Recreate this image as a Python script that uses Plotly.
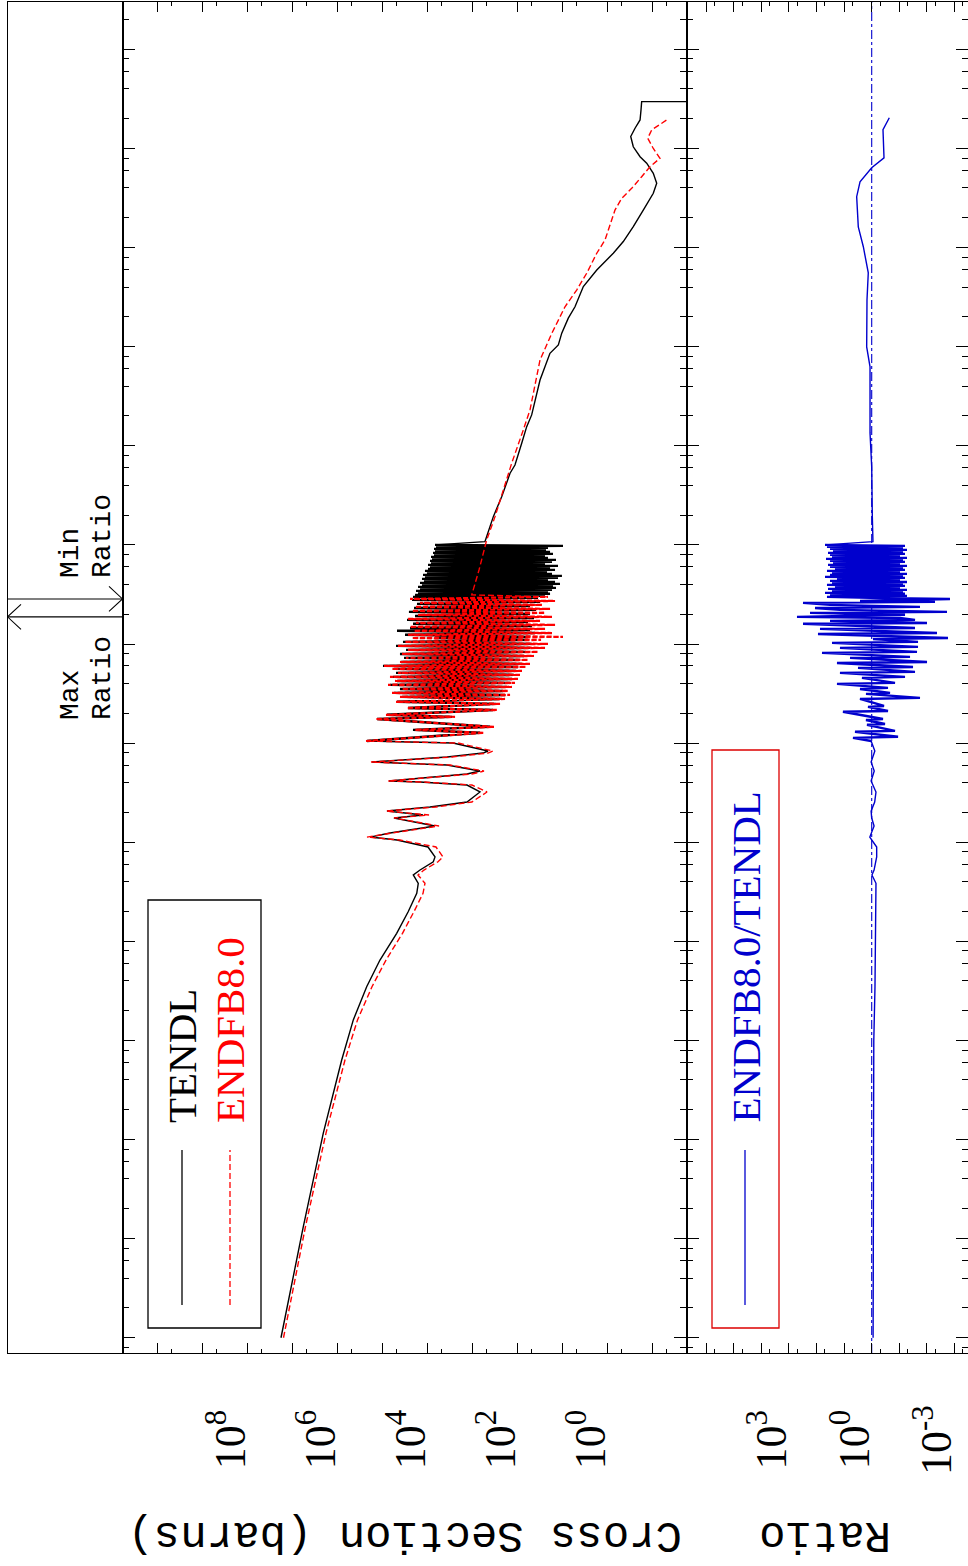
import math
import plotly.graph_objects as go

W, H = 968, 1566

# ---------------- data (energy in eV, cross section in barns) ----------------
tendl_thermal_e = [1.0e-5, 1.32e-4, 1.16e-3, 6.34e-3, 1.61e-2, 3.48e-2, 6.47e-2, 0.1205, 0.2, 0.305, 0.385, 0.467, 0.524, 0.635, 0.71]
tendl_thermal_xs = [1.82e7, 5.81e6, 2.09e6, 8.15e5, 4.50e5, 2.27e5, 1.15e5, 4.89e4, 2.70e4, 1.75e4, 1.62e4, 2.09e4, 1.48e4, 7.51e3, 6.88e3]
endf_thermal_xs = [1.60e7, 5.20e6, 1.82e6, 6.89e5, 3.63e5, 1.73e5, 8.45e4, 3.63e4, 2.01e4, 1.27e4, 1.15e4, 1.64e4, 1.21e4, 5.9e3, 4.57e3]

low_res_e = [0.895, 1.052, 1.127, 1.239, 1.39, 1.459, 1.754, 1.88, 2.065, 2.265, 2.546, 3.213, 3.776, 4.046, 4.15,
             4.55, 4.875, 5.224, 6.01, 6.44, 7.24, 7.94, 8.32, 10.02]
tendl_low_res_xs = [9.85e3, 4.81e4, 1.91e5, 6.89e4, 1.48e4, 6.88e3, 5.61e4, 1.27e4, 8.02e4, 8.89e3, 1.34e3, 689, 1.34e3,
                    1.48e4, 7.24e4, 8.89e3, 1.34e3, 689, 3.72e3, 1.73e5, 3.72e3, 590, 457, 2.74e3]
endf_low_res_xs = [6.54e3, 4.13e4, 2.23e5, 6.21e4, 1.15e4, 5.61e3, 5.61e4, 9.35e3, 8.45e4, 6.54e3, 1.04e3, 481, 1.04e3,
                   1.21e4, 7.62e4, 7.24e3, 1.04e3, 561, 3.19e3, 1.82e5, 2.88e3, 457, 354, 2.12e3]

tendl_res_e = [10.5, 12.7, 13.6, 14.6, 17.5, 18.4, 19.3, 21.6, 22.6, 24.9, 26.1, 27.9, 29.3, 30.6, 32.1, 33.6, 35.2, 36.9,
               38.7, 40.5, 42.4, 44.4, 46.6, 48.8, 51.1, 53.5, 56.1, 58.7, 60.1, 63.0, 65.9, 69.1, 72.4, 75.8, 79.4, 83.2,
               87.2, 91.4, 95.7, 100.2, 105, 110, 115, 118, 124, 129, 136, 139, 145, 152, 160, 167, 175, 183, 192, 201,
               211, 221, 231, 242, 254, 266, 279, 292]
tendl_res_xs = [2.23e5, 689, 2.12e4, 413, 1.34e5, 2.88e3, 8.02e4, 354, 2.74e4, 303, 4.81e4, 247, 3.72e4, 191, 5.61e4, 212,
                4.13e4, 173, 6.89e4, 148, 4.81e4, 134, 5.90e4, 121, 5.06e4, 109, 5.61e4, 98.5, 9.85e4, 80.2, 3.92e4, 88.9,
                3.36e4, 72.4, 4.13e4, 65.4, 3.03e4, 53.3, 5.06e4, 48.1, 3.54e4, 59.0, 6.88e3, 53.3, 3.19e4, 41.3, 4.81e4,
                53.3, 2.47e4, 48.1, 2.12e4, 59.0, 2.88e4, 43.4, 1.91e4, 53.3, 2.61e4, 39.2, 2.01e4, 53.3, 1.73e4, 31.9,
                2.23e4, 35.4]

endf_res_e = [10.5, 12.7, 13.6, 14.6, 17.5, 18.4, 19.3, 21.6, 22.6, 24.9, 26.1, 27.9, 29.3, 30.6, 32.1, 33.6, 35.2, 36.9,
              38.7, 40.5, 42.4, 44.4, 46.6, 48.8, 51.1, 53.5, 56.1, 58.7, 60.1, 63.0, 65.9, 69.1, 72.4, 75.8, 79.4, 83.2,
              87.2, 91.4, 95.7, 100.2, 105, 110, 115, 118, 124, 129, 136, 142, 149, 156, 163, 171, 179, 188, 197, 206,
              216, 226, 237, 248, 260, 272, 285, 299]
endf_res_xs = [2.35e5, 561, 1.91e4, 337, 1.41e5, 2.47e3, 8.45e4, 288, 2.88e4, 247, 5.06e4, 191, 4.13e4, 148, 6.21e4, 164,
               3.72e4, 134, 7.62e4, 115, 5.33e4, 98.5, 6.89e4, 88.9, 4.57e4, 80.2, 6.21e4, 65.4, 9.35e4, 53.3, 4.13e4, 59.0,
               3.03e4, 43.4, 3.72e4, 35.4, 2.74e4, 24.7, 4.57e4, 21.2, 3.19e4, 30.3, 2.23e4, 9.85, 2.74e4, 17.3, 2.01e4,
               24.7, 2.47e4, 14.8, 1.82e4, 31.9, 2.74e4, 17.3, 1.64e4, 24.7, 2.23e4, 19.1, 1.91e4, 28.8, 1.48e4, 14.8,
               2.47e4, 21.2]

block_e = [299, 306, 313, 321, 328, 336, 344, 352, 360, 368, 377, 386, 395, 404, 414, 423, 433, 444, 454, 465, 476, 487,
           498, 510, 522, 534, 547, 560, 573, 586, 600, 614, 629, 644, 659, 674, 690, 706, 723, 740, 757, 775, 793, 811,
           830, 850, 870, 890, 911, 933, 955, 977, 1000]
tendl_block_xs = [2.12e4, 24.7, 1.91e4, 19.1, 1.64e4, 21.2, 1.82e4, 17.3, 1.48e4, 14.1, 1.64e4, 16.4, 1.34e4, 11.5,
                  1.48e4, 14.8, 1.21e4, 21.2, 1.34e4, 12.7, 1.15e4, 10.4, 1.27e4, 17.3, 1.04e4, 22.3, 1.15e4, 14.8,
                  9.85e3, 19.1, 8.89e3, 12.7, 9.85e3, 24.7, 8.45e3, 17.3, 8.89e3, 14.1, 8.02e3, 21.2, 8.45e3, 24.7,
                  7.24e3, 16.4, 7.62e3, 19.1, 6.88e3, 23.5, 7.24e3, 21.2, 6.54e3, 9.85, 6.88e3]

tendl_fast_e = [1000, 1080, 1928, 3063, 5284, 6400, 1.06e4, 1.56e4, 2.05e4, 4.61e4, 8.57e4, 1.04e5, 1.37e5, 1.94e5, 2.53e5,
                4.04e5, 5.94e5, 8.77e5, 1.15e6, 1.63e6, 2.39e6, 3.53e6, 4.46e6, 5.62e6, 7.10e6, 8.26e6, 1.04e7, 1.32e7,
                1.60e7, 1.94e7, 2.44e7, 2.97e7, 2.97e7]
tendl_fast_xs = [6.88e3, 533, 348, 227, 148, 115, 81.5, 63.1, 48.9, 31.9, 19.2, 12.5, 10.5, 7.51, 5.33, 3.48, 1.75, 0.751, 0.450,
                 0.270, 0.162, 0.097, 0.0815, 0.097, 0.136, 0.191, 0.270, 0.308, 0.247, 0.191, 0.182, 0.176, 1e-5]

endf_fast_e = [299, 313, 558, 1120, 1928, 4518, 6668, 1.445e4, 2.30e4, 7.35e4, 1.36e5, 2.53e5, 3.73e5, 5.51e5, 8.77e5, 1.19e6,
               2.39e6, 3.14e6, 3.96e6, 5.19e6, 6.55e6, 7.96e6, 1.0e7, 1.27e7, 1.54e7, 1.94e7]
endf_fast_xs = [21.2, 1.05e3, 724, 489, 319, 175, 136, 75.1, 53.3, 31.9, 17.5, 8.89, 4.89, 2.93, 1.75, 1.15, 0.689, 0.489,
                0.293, 0.176, 0.115, 0.0689, 0.097, 0.129, 0.105, 0.0489]

# ratio ENDFB8.0 / TENDL
ratio_low_e = [1e-5, 1e-4, 1e-3, 1e-2, 3.48e-2, 0.1205, 0.305, 0.385, 0.467, 0.524, 0.71, 0.895, 1.127, 1.459, 1.754,
               2.065, 2.546, 3.213, 4.15, 5.224, 6.44, 8.32, 10.5]
ratio_low = [0.89, 0.88, 0.87, 0.84, 0.76, 0.74, 0.72, 0.70, 0.98, 0.82, 0.66, 0.66, 1.17, 0.82, 1.0, 1.05, 0.78, 0.70,
             1.05, 0.81, 1.05, 0.77, 1.05]
ratio_res_e = [10.5, 11.3, 11.6, 13.0, 13.3, 15.3, 15.6, 17.1, 17.5, 20.7, 21.1, 23.2, 23.7, 27.9, 28.6, 31.4, 32.1, 35.2, 36.1,
               39.6, 40.5, 45.5, 46.6, 51.1, 52.3, 57.4, 58.7, 64.4, 65.9, 72.4, 74.1, 81.3, 83.2, 91.4, 93.5, 102.6, 105,
               112.5, 115, 126, 129, 142, 145, 160, 163, 171, 175, 183, 188, 197, 206, 211, 221, 231, 237, 248, 260, 266,
               272, 279, 285, 292]
ratio_res = [1.05, 4.76, 0.111, 4.03, 0.143, 1.48, 0.330, 1.61, 0.390, 11.0, 0.257, 1.36, 0.358, 2.65, 0.0178, 1.61, 0.217,
             2.65, 0.257, 18.1, 0.143, 2.25, 0.0621, 14.1, 0.0270, 3.13, 0.0319, 18.1, 0.00991, 6.11, 0.0409, 63.2,
             0.0228, 14.1, 0.0210, 27.4, 0.0210, 0.897, 0.00172, 88.3, 0.00431, 74.7, 0.0270, 308, 0.00991, 32.4,
             0.0270, 0.0944, 509, 0.0621, 172, 0.00187, 14.1, 113, 0.0178, 32.4, 308, 0.00509, 2.65, 0.0734, 0.00146,
             1.15]
ratio_block = [41.7, 0.0526, 32.4, 0.0621, 49.2, 0.0734, 27.4, 0.0526, 38.3, 0.0944, 21.4, 0.0621, 41.7, 0.0734, 27.4,
               0.0526, 32.4, 0.0944, 18.1, 0.0621, 49.2, 0.0734, 32.4, 0.0526, 27.4, 0.0944, 41.7, 0.0621, 21.4, 0.0734,
               32.4, 0.0526, 38.3, 0.0944, 25.2, 0.0621, 32.4, 0.0734, 45.3, 0.0526, 27.4, 0.0944, 32.4, 0.0621, 38.3,
               0.0734, 25.2, 0.0526, 32.4, 0.0734, 41.7, 0.0621, 49.2]
ratio_fast_e = [1000, 1080, 1928, 6120, 1.35e4, 6.25e4, 9.96e4, 2.97e5, 5.56e5, 1.02e6, 1.62e6, 3.26e6, 4.61e6, 6.39e6,
                8.05e6, 1.55e7, 2.04e7]
ratio_fast = [49.2, 0.9, 0.95, 1.0, 1.15, 1.15, 1.52, 1.48, 1.33, 2.01, 3.06, 3.5, 2.65, 1.0, 0.358, 0.39, 0.23]

xs_tick_exponents = [8, 6, 4, 2, 0]
ratio_tick_exponents = [3, 0, -3]

# ---------------- assemble series ----------------
tendl_smooth_low_e = tendl_thermal_e + low_res_e + [tendl_res_e[0]]
tendl_smooth_low_xs = tendl_thermal_xs + tendl_low_res_xs + [tendl_res_xs[0]]
tendl_dense_e = tendl_res_e + block_e
tendl_dense_xs = tendl_res_xs + tendl_block_xs
endf_smooth_low_e = tendl_thermal_e + low_res_e + [endf_res_e[0]]
endf_smooth_low_xs = endf_thermal_xs + endf_low_res_xs + [endf_res_xs[0]]
ratio_dense_e = ratio_res_e + block_e
ratio_dense = ratio_res + ratio_block
for a, b in [(tendl_smooth_low_e, tendl_smooth_low_xs), (tendl_dense_e, tendl_dense_xs),
             (tendl_fast_e, tendl_fast_xs), (endf_smooth_low_e, endf_smooth_low_xs), (endf_res_e, endf_res_xs),
             (endf_fast_e, endf_fast_xs), (ratio_low_e, ratio_low), (ratio_dense_e, ratio_dense),
             (ratio_fast_e, ratio_fast)]:
    assert len(a) == len(b)

all_ratio_e = ratio_low_e + ratio_dense_e + ratio_fast_e
all_ratio = ratio_low + ratio_dense + ratio_fast
e_max_ratio = all_ratio_e[max(range(len(all_ratio)), key=all_ratio.__getitem__)]
e_min_ratio = all_ratio_e[min(range(len(all_ratio)), key=all_ratio.__getitem__)]

# ---------------- layout geometry ----------------
def px(x):
    return x / W

def py(y):
    return 1 - y / H

Y_TOP, Y_BOT = 2, 1353
X_STRIP, X_XS, X_MID = 7.5, 122.5, 686.5
y_dom = [py(Y_BOT), py(Y_TOP)]
e_range = [-5.154, 8.478]
ppd = (Y_BOT - Y_TOP) / (e_range[1] - e_range[0])

BLACK = "#000000"
RED = "#ff0000"
BLUE = "#0000cd"
SERIF = "Liberation Serif"
MONO = "Liberation Mono"
DASH = "6px,3px"

fig = go.Figure()

def add_line(x, y, color, width, ax, dash=None):
    fig.add_trace(go.Scatter(x=x, y=y, mode="lines",
                             line=dict(color=color, width=width, dash=dash) if dash else dict(color=color, width=width),
                             xaxis=ax[0], yaxis=ax[1], hoverinfo="skip"))

XS = ("x", "y")
RT = ("x2", "y2")
ST = ("x3", "y3")

# TENDL
add_line(tendl_smooth_low_xs, tendl_smooth_low_e, BLACK, 1.4, XS)
add_line(tendl_dense_xs, tendl_dense_e, BLACK, 2.4, XS)
add_line(tendl_fast_xs, tendl_fast_e, BLACK, 1.4, XS)
# ENDF/B-VIII.0
add_line(endf_smooth_low_xs, endf_smooth_low_e, RED, 1.4, XS, DASH)
add_line(endf_res_xs, endf_res_e, RED, 2.2, XS, "5px,2px")
add_line(endf_fast_xs, endf_fast_e, RED, 1.4, XS, DASH)
# ratio = 1 reference line
add_line([1, 1], [10 ** e_range[0], 10 ** e_range[1]], BLUE, 1.1, RT, "dashdot")
# ratio
add_line(ratio_low, ratio_low_e, BLUE, 1.4, RT)
add_line(ratio_dense, ratio_dense_e, BLUE, 2.4, RT)
add_line(ratio_fast, ratio_fast_e, BLUE, 1.4, RT)

# Max / Min ratio markers in the left strip
f = 10 ** (12.5 / ppd)
for e, head_x, tip_x in [(e_min_ratio, 101.5, 115), (e_max_ratio, 13.5, 0)]:
    add_line([0, 115], [e, e], BLACK, 1.1, ST)
    add_line([head_x, tip_x, head_x], [e * f, e, e / f], BLACK, 1.1, ST)

axis_common = dict(showline=True, linecolor=BLACK, linewidth=1.1, mirror="allticks", ticks="inside",
                   tickcolor=BLACK, tickwidth=1.2, showgrid=False, zeroline=False, showticklabels=False,
                   type="log")
minor_common = dict(tickmode="array", ticks="inside", tickcolor=BLACK, tickwidth=1.2)

fig.update_layout(
    width=W, height=H, autosize=False,
    margin=dict(l=0, r=0, t=0, b=0, pad=0),
    paper_bgcolor="white", plot_bgcolor="white",
    showlegend=False,
    xaxis=dict(axis_common, domain=[px(X_XS), px(X_MID)], range=[10.782, -1.751], anchor="y",
               tickmode="array", tickvals=[10.0 ** k for k in range(-2, 11)], ticklen=10,
               minor=dict(minor_common, tickvals=[5 * 10.0 ** k for k in range(-3, 10)], ticklen=4)),
    yaxis=dict(axis_common, domain=y_dom, range=e_range, anchor="x",
               tickmode="array", tickvals=[10.0 ** k for k in range(-5, 9)], ticklen=12,
               minor=dict(minor_common, tickvals=[m * 10.0 ** k for k in range(-6, 9) for m in (2, 4, 6, 8)],
                          ticklen=6)),
    xaxis2=dict(axis_common, domain=[px(X_MID), 1.0], range=[6.710, -3.489], anchor="y2",
                tickmode="array", tickvals=[10.0 ** k for k in range(-4, 8)], ticklen=10,
                minor=dict(minor_common, tickvals=[5 * 10.0 ** k for k in range(-5, 7)], ticklen=4)),
    yaxis2=dict(axis_common, domain=y_dom, range=e_range, anchor="x2",
                tickmode="array", tickvals=[10.0 ** k for k in range(-5, 9)], ticklen=12,
                minor=dict(minor_common, tickvals=[m * 10.0 ** k for k in range(-6, 9) for m in (2, 4, 6, 8)],
                           ticklen=6)),
    xaxis3=dict(domain=[px(X_STRIP), px(X_XS)], range=[0, 115], anchor="y3", showline=True, linecolor=BLACK,
                linewidth=1.1, mirror=True, ticks="", showticklabels=False, showgrid=False, zeroline=False),
    yaxis3=dict(domain=y_dom, range=e_range, type="log", anchor="x3", showline=True, linecolor=BLACK,
                linewidth=1.1, mirror=True, ticks="", showticklabels=False, showgrid=False, zeroline=False),
)

shapes = []
# legend (cross section panel)
shapes.append(dict(type="rect", xref="paper", yref="paper", x0=px(148), x1=px(261), y0=py(1328), y1=py(900),
                   line=dict(color=BLACK, width=1.3)))
shapes.append(dict(type="line", xref="paper", yref="paper", x0=px(182), x1=px(182), y0=py(1305), y1=py(1150),
                   line=dict(color=BLACK, width=1.3)))
shapes.append(dict(type="line", xref="paper", yref="paper", x0=px(230), x1=px(230), y0=py(1305), y1=py(1150),
                   line=dict(color=RED, width=1.3, dash=DASH)))
# legend (ratio panel)
shapes.append(dict(type="rect", xref="paper", yref="paper", x0=px(712), x1=px(779), y0=py(1328), y1=py(750),
                   line=dict(color="#dd0000", width=1.3)))
shapes.append(dict(type="line", xref="paper", yref="paper", x0=px(745), x1=px(745), y0=py(1305), y1=py(1150),
                   line=dict(color=BLUE, width=1.3)))
fig.update_layout(shapes=shapes)

ann = []
for k in xs_tick_exponents:
    ann.append(dict(text=f"10<sup>{k}</sup>", xref="x", x=k, yref="paper", y=py(1440), textangle=-90,
                    xanchor="right", yanchor="middle", xshift=8, showarrow=False,
                    font=dict(family=SERIF, size=44, color=BLACK)))
for k in ratio_tick_exponents:
    ann.append(dict(text=f"10<sup>{k}</sup>", xref="x2", x=k, yref="paper", y=py(1440), textangle=-90,
                    xanchor="right", yanchor="middle", xshift=8, showarrow=False,
                    font=dict(family=SERIF, size=44, color=BLACK)))
ann.append(dict(text="Cross Section (barns)", xref="paper", x=px(404.5), yref="paper", y=py(1535), textangle=180,
                xanchor="center", yanchor="middle", showarrow=False, font=dict(family=MONO, size=44, color=BLACK)))
ann.append(dict(text="Ratio", xref="paper", x=px(825.5), yref="paper", y=py(1535), textangle=180,
                xanchor="center", yanchor="middle", showarrow=False, font=dict(family=MONO, size=44, color=BLACK)))
# legend texts
ann.append(dict(text="TENDL", xref="paper", x=px(182), yref="paper", y=py(1125), textangle=-90,
                xanchor="center", yanchor="bottom", showarrow=False, font=dict(family=SERIF, size=41, color=BLACK)))
ann.append(dict(text="ENDFB8.0", xref="paper", x=px(230), yref="paper", y=py(1125), textangle=-90,
                xanchor="center", yanchor="bottom", showarrow=False, font=dict(family=SERIF, size=41, color=RED)))
ann.append(dict(text="ENDFB8.0/TENDL", xref="paper", x=px(745), yref="paper", y=py(1125), textangle=-90,
                xanchor="center", yanchor="bottom", showarrow=False, font=dict(family=SERIF, size=41, color=BLUE)))
# max / min ratio labels
for txt, xc, ybot in [("Max", 70, 722), ("Ratio", 102, 722), ("Min", 70, 580), ("Ratio", 102, 580)]:
    ann.append(dict(text=txt, xref="paper", x=px(xc), yref="paper", y=py(ybot), textangle=-90,
                    xanchor="center", yanchor="bottom", showarrow=False,
                    font=dict(family=MONO, size=28, color=BLACK)))
fig.update_layout(annotations=ann)

fig.write_html("out.html", config={"displayModeBar": False},
               post_script="document.body.style.margin='0px';document.body.style.overflow='hidden';")
